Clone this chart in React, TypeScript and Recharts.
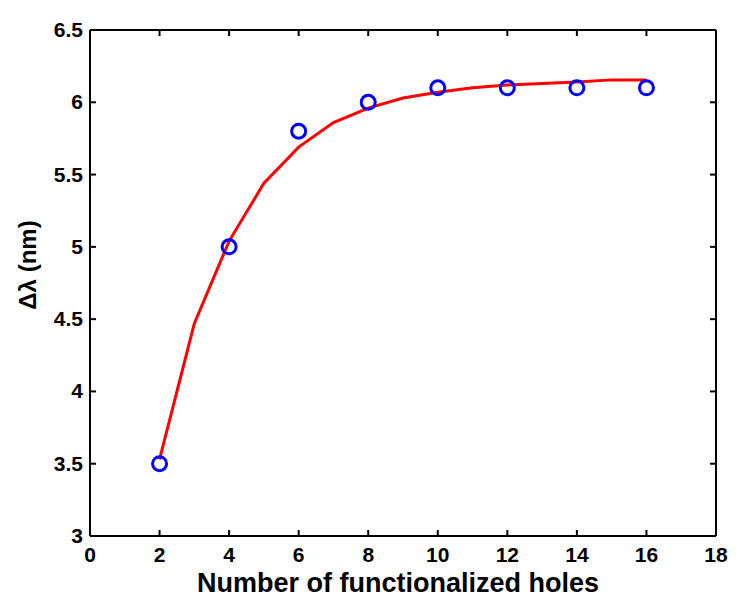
import { ComposedChart, Line, Scatter, XAxis, YAxis } from "recharts";

const HOLES = [2, 4, 6, 8, 10, 12, 14, 16];
const SHIFT = [3.5, 5.0, 5.8, 6.0, 6.1, 6.1, 6.1, 6.1];

const FIT_X = [2, 3, 4, 5, 6, 7, 8, 9, 10, 11, 12, 13, 14, 15, 16];
const FIT_Y = [3.53, 4.47, 5.04, 5.44, 5.69, 5.86, 5.96, 6.03, 6.07, 6.1, 6.12, 6.13, 6.14, 6.155, 6.155];

const X_TICKS = [0, 2, 4, 6, 8, 10, 12, 14, 16, 18];
const Y_TICKS = [3, 3.5, 4, 4.5, 5, 5.5, 6, 6.5];

const measured = HOLES.map((x, i) => ({ x, y: SHIFT[i] }));
const fit = FIT_X.map((x, i) => ({ x, y: FIT_Y[i] }));

const FONT = "'Liberation Sans', Arial, sans-serif";

function BottomTick(props: any) {
  const { x, y, payload } = props;
  return (
    <g>
      <line x1={x} y1={y} x2={x} y2={y - 6} stroke="#000" strokeWidth={2} />
      <text x={x} y={y + 26} textAnchor="middle" fontFamily={FONT} fontWeight="bold" fontSize={21} fill="#000">
        {payload.value}
      </text>
    </g>
  );
}

function LeftTick(props: any) {
  const { x, y, payload } = props;
  return (
    <g>
      <line x1={x} y1={y} x2={x + 6} y2={y} stroke="#000" strokeWidth={2} />
      <text x={x - 7} y={y + 7} textAnchor="end" fontFamily={FONT} fontWeight="bold" fontSize={21} fill="#000">
        {payload.value}
      </text>
    </g>
  );
}

// box ticks on the top and right edges, no labels
function TopTick(props: any) {
  const { x, y } = props;
  return <line x1={x} y1={y} x2={x} y2={y + 6} stroke="#000" strokeWidth={2} />;
}

function RightTick(props: any) {
  const { x, y } = props;
  return <line x1={x} y1={y} x2={x - 6} y2={y} stroke="#000" strokeWidth={2} />;
}

export default function App() {
  return (
    <div style={{ position: "absolute", left: 0, top: 0, width: 750, height: 615, background: "#fff" }}>
      <ComposedChart width={750} height={615} margin={{ top: 29, right: 33, bottom: 49, left: 0 }}>
        <XAxis
          xAxisId="b"
          type="number"
          dataKey="x"
          domain={[0, 18]}
          ticks={X_TICKS}
          interval={0}
          height={30}
          tickSize={0}
          tickMargin={0}
          tickLine={false}
          axisLine={{ stroke: "#000", strokeWidth: 2 }}
          tick={<BottomTick />}
          allowDataOverflow
        />
        <XAxis
          xAxisId="t"
          orientation="top"
          type="number"
          dataKey="x"
          domain={[0, 18]}
          ticks={X_TICKS}
          interval={0}
          height={1}
          tickSize={0}
          tickMargin={0}
          tickLine={false}
          axisLine={{ stroke: "#000", strokeWidth: 2 }}
          tick={<TopTick />}
          allowDataOverflow
        />
        <YAxis
          yAxisId="l"
          type="number"
          dataKey="y"
          domain={[3, 6.5]}
          ticks={Y_TICKS}
          interval={0}
          width={90}
          tickSize={0}
          tickMargin={0}
          tickLine={false}
          axisLine={{ stroke: "#000", strokeWidth: 2 }}
          tick={<LeftTick />}
          allowDataOverflow
        />
        <YAxis
          yAxisId="r"
          orientation="right"
          type="number"
          dataKey="y"
          domain={[3, 6.5]}
          ticks={Y_TICKS}
          interval={0}
          width={1}
          tickSize={0}
          tickMargin={0}
          tickLine={false}
          axisLine={{ stroke: "#000", strokeWidth: 2 }}
          tick={<RightTick />}
          allowDataOverflow
        />
        <Line
          xAxisId="b"
          yAxisId="l"
          data={fit}
          dataKey="y"
          type="linear"
          stroke="#ff0000"
          strokeWidth={3}
          dot={false}
          activeDot={false}
          isAnimationActive={false}
        />
        <Scatter
          xAxisId="t"
          yAxisId="r"
          data={measured}
          dataKey="y"
          isAnimationActive={false}
          shape={(p: any) => (
            <circle cx={p.cx} cy={p.cy} r={7} fill="none" stroke="#0000ff" strokeWidth={3} />
          )}
        />
        <text x={398} y={592} textAnchor="middle" fontFamily={FONT} fontWeight="bold" fontSize={27} fill="#000">
          Number of functionalized holes
        </text>
        <text
          x={36}
          y={265}
          transform="rotate(-90 36 265)"
          textAnchor="middle"
          fontFamily={FONT}
          fontWeight="bold"
          fontSize={24}
          fill="#000"
        >
          Δλ (nm)
        </text>
      </ComposedChart>
    </div>
  );
}
